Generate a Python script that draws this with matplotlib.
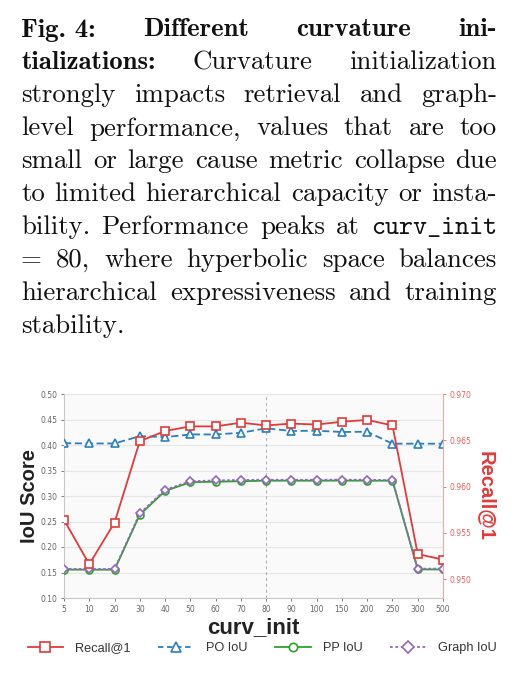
import matplotlib
matplotlib.use('Agg')
import matplotlib.pyplot as plt
from matplotlib.lines import Line2D

W, H = 513, 677

# --- data -------------------------------------------------------------
curv_init = ['5', '10', '20', '30', '40', '50', '60', '70', '80', '90',
             '100', '150', '200', '250', '300', '500']
recall_at1 = [0.9564, 0.9516, 0.9561, 0.9649, 0.9660, 0.9665, 0.9665, 0.9669,
              0.9666, 0.9668, 0.9667, 0.9670, 0.9672, 0.9666, 0.9527, 0.9521]
po_iou = [0.4036, 0.4030, 0.4030, 0.4174, 0.4154, 0.4207, 0.4207, 0.4240,
          0.4327, 0.4275, 0.4280, 0.4255, 0.4260, 0.4026, 0.4026, 0.4026]
pp_iou = [0.1557, 0.1555, 0.1555, 0.2633, 0.3098, 0.3270, 0.3280, 0.3290,
          0.3300, 0.3300, 0.3300, 0.3302, 0.3300, 0.3300, 0.1560, 0.1560]
graph_iou = [0.1570, 0.1568, 0.1568, 0.2660, 0.3120, 0.3290, 0.3305, 0.3315,
             0.3318, 0.3318, 0.3318, 0.3320, 0.3318, 0.3312, 0.1575, 0.1575]
peak = '80'

caption = [
    [('Fig. 4:', 'b'), ('Different', 'b'), ('curvature', 'b'), ('ini-', 'b')],
    [('tializations:', 'b'), ('Curvature', 'r'), ('initialization', 'r')],
    'strongly impacts retrieval and graph-',
    'level performance, values that are too',
    'small or large cause metric collapse due',
    'to limited hierarchical capacity or insta-',
    [('bility.', 'r'), ('Performance', 'r'), ('peaks', 'r'), ('at', 'r'), ('curv_init', 't')],
    '= 80, where hyperbolic space balances',
    'hierarchical expressiveness and training',
    'stability.',
]

fig = plt.figure(figsize=(W / 100, H / 100), dpi=100)
fig.patch.set_facecolor('white')

# --- caption, justified by hand -----------------------------------------
fams = {'b': ['cmb10', 'DejaVu Serif'], 'r': ['cmr10', 'DejaVu Serif'],
        't': ['cmtt10', 'DejaVu Sans Mono']}
FS = 19.3
L, R = 21, 497
base0, step = 36.5, 32.95
renderer = fig.canvas.get_renderer()
for i, line in enumerate(caption):
    if isinstance(line, str):
        line = [(w, 'r') for w in line.split()]
    y = 1 - (base0 + i * step) / H
    texts = [fig.text(0, y, w, family=fams[s], fontsize=FS, va='baseline',
                      weight='bold' if s == 'b' else 'normal', color='#111111')
             for w, s in line]
    widths = [t.get_window_extent(renderer).width for t in texts]
    last = i == len(caption) - 1
    gap = 8 if last else (R - L - sum(widths)) / (len(texts) - 1)
    x = L
    for t, w in zip(texts, widths):
        t.set_x(x / W)
        x += w + gap

# --- chart --------------------------------------------------------------
red, blue, green, purple = '#e23a3a', '#2a7fc0', '#2ca02c', '#9467bd'
ax = fig.add_axes([64 / W, 1 - 598 / H, 379 / W, 204 / H])
ax.set_facecolor('#fafafa')
xs = list(range(len(curv_init)))

ax.plot(xs, po_iou, color=blue, lw=1.3, ls=(0, (4, 2)), marker='^', ms=6,
        mfc='white', mec=blue, mew=1.2, zorder=3)
ax.plot(xs, pp_iou, color=green, lw=1.3, marker='o', ms=5,
        mfc='white', mec=green, mew=1.2, zorder=3)
ax.plot(xs, graph_iou, color=purple, lw=1.3, ls=(0, (1.5, 1.2)), marker='D', ms=4.5,
        mfc='white', mec=purple, mew=1.2, zorder=4)
ax.axvline(curv_init.index(peak), color='#aaaaaa', lw=0.7, ls=(0, (3, 3)), zorder=1)

ax.set_xlim(0, len(curv_init) - 1)
ax.set_ylim(0.10, 0.50)
ax.set_yticks([0.10, 0.15, 0.20, 0.25, 0.30, 0.35, 0.40, 0.45, 0.50])
ax.set_yticklabels(['%.2f' % v for v in ax.get_yticks()])
ax.set_xticks(xs)
ax.set_xticklabels(curv_init)
ax.grid(axis='y', color='#e6e6e6', lw=0.8)
ax.set_axisbelow(True)
ax.tick_params(labelsize=5.5, colors='#666666', length=2.5, width=0.6, pad=2.5)
for s in ['top', 'right']:
    ax.spines[s].set_visible(False)
for s in ['left', 'bottom']:
    ax.spines[s].set_color('#c8c8c8')
    ax.spines[s].set_linewidth(0.8)
ax.set_ylabel('IoU Score', family='Liberation Sans', weight='bold', fontsize=14.5,
              color='#222222', labelpad=0.5)
ax.set_xlabel('curv_init', family='Liberation Sans', weight='bold', fontsize=16,
              color='#222222', labelpad=2)

ax2 = ax.twinx()
ax2.plot(xs, recall_at1, color=red, lw=1.3, marker='s', ms=5.5,
         mfc='white', mec=red, mew=1.2, zorder=5)
ax2.set_ylim(0.94795, 0.970)
ax2.set_yticks([0.950, 0.955, 0.960, 0.965, 0.970])
ax2.set_yticklabels(['%.3f' % v for v in ax2.get_yticks()])
ax2.tick_params(labelsize=5.5, colors='#e06060', length=2.5, width=0.6, pad=2.5)
for s in ['top', 'left', 'bottom']:
    ax2.spines[s].set_visible(False)
ax2.spines['right'].set_color('#eeaaaa')
ax2.spines['right'].set_linewidth(0.8)
ax2.set_ylabel('Recall@1', family='Liberation Sans', weight='bold', fontsize=14.5,
               color=red, rotation=270, labelpad=17)

handles = [
    Line2D([], [], color=red, lw=1.3, marker='s', ms=7, mfc='white', mec=red, mew=1.2),
    Line2D([], [], color=blue, lw=1.3, ls=(0, (3, 2)), marker='^', ms=7, mfc='white', mec=blue, mew=1.2),
    Line2D([], [], color=green, lw=1.3, marker='o', ms=6, mfc='white', mec=green, mew=1.2),
    Line2D([], [], color=purple, lw=1.3, ls=(0, (1.5, 1.5)), marker='D', ms=6, mfc='white', mec=purple, mew=1.2),
]
fig.legend(handles, ['Recall@1', 'PO IoU', 'PP IoU', 'Graph IoU'], ncol=4,
           loc='center', bbox_to_anchor=(262 / W, 1 - 648 / H), frameon=False,
           prop={'family': 'Liberation Sans', 'size': 9.2}, labelcolor='#333333',
           handlelength=2.8, handletextpad=0.9, columnspacing=2.2)

fig.savefig('out.png', dpi=100, facecolor='white')
